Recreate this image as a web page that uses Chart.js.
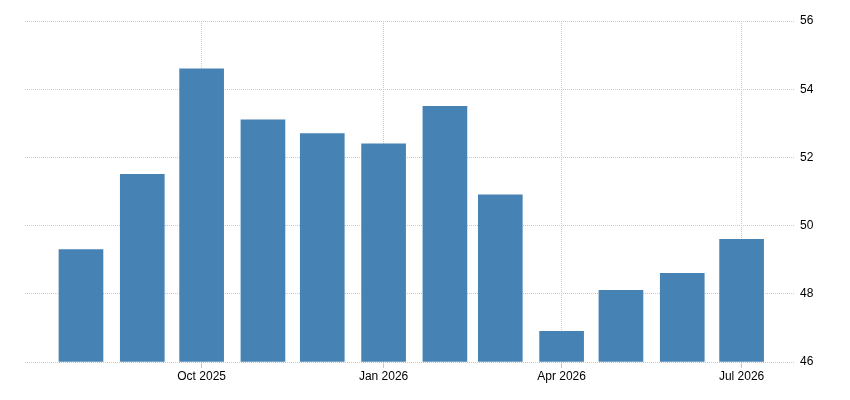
<!DOCTYPE html>
<html>
<head>
<meta charset="utf-8">
<script src="https://cdn.jsdelivr.net/npm/chart.js@4"></script>
<style>
  html, body { margin: 0; padding: 0; background: #fff; }
  #wrap { width: 850px; height: 400px; }
</style>
</head>
<body>
<div id="wrap"><canvas id="chart"></canvas></div>
<script>
// dados mensais
const months = ['2025-08-01', '2025-09-01', '2025-10-01', '2025-11-01', '2025-12-01', '2026-01-01',
                '2026-02-01', '2026-03-01', '2026-04-01', '2026-05-01', '2026-06-01', '2026-07-01'];
const values = [49.3, 51.5, 54.6, 53.1, 52.7, 52.4, 53.5, 50.9, 46.9, 48.1, 48.6, 49.6];
const tickDates = ['2025-10-01', '2026-01-01', '2026-04-01', '2026-07-01'];
const tickLabels = ['Oct 2025', 'Jan 2026', 'Apr 2026', 'Jul 2026'];
const yTicks = [46, 48, 50, 52, 54, 56];

// converte data em número de dias
const toDay = s => Date.parse(s + 'T00:00:00Z') / 86400000;

const gridColor = '#c8c8c8';

new Chart(document.getElementById('chart'), {
  type: 'bar',
  data: {
    datasets: [{
      data: months.map((m, i) => ({ x: toDay(m), y: values[i] })),
      backgroundColor: '#4682b4',
      barThickness: 44,
      base: 46
    }]
  },
  options: {
    responsive: true,
    maintainAspectRatio: false,
    animation: false,
    layout: { padding: { left: 25, top: 21, right: 0, bottom: 0 } },
    plugins: { legend: { display: false }, tooltip: { enabled: false } },
    scales: {
      x: {
        type: 'linear',
        offset: false,
        min: toDay(months[0]) - 28.3,
        max: toDay(months[11]) + 27,
        afterBuildTicks: axis => { axis.ticks = tickDates.map(d => ({ value: toDay(d) })); },
        afterFit: axis => { axis.height = 38; },
        border: { display: false, dash: [1, 1] },
        grid: {
          offset: false,
          color: gridColor,
          tickColor: gridColor,
          tickLength: 6,
          lineWidth: 1
        },
        ticks: {
          autoSkip: false,
          maxRotation: 0,
          padding: 1,
          color: '#000',
          font: { family: 'Liberation Sans, Arial, sans-serif', size: 12 },
          callback: v => {
            const i = tickDates.findIndex(d => toDay(d) === v);
            return i >= 0 ? tickLabels[i] : '';
          }
        }
      },
      y: {
        position: 'right',
        min: 46,
        max: 56,
        afterBuildTicks: axis => { axis.ticks = yTicks.map(v => ({ value: v })); },
        afterFit: axis => { axis.width = 55; },
        border: { display: false, dash: [1, 1] },
        grid: { color: gridColor, drawTicks: false },
        ticks: {
          padding: 5,
          color: '#000',
          font: { family: 'Liberation Sans, Arial, sans-serif', size: 12 }
        }
      }
    }
  }
});
</script>
</body>
</html>
